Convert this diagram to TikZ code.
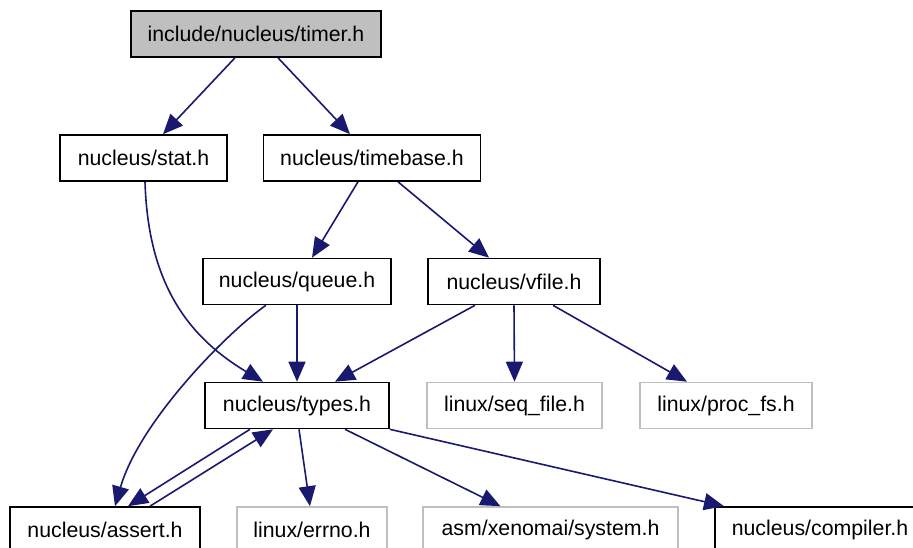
\documentclass[tikz,border=0pt]{standalone}
\usepackage{fontspec}
\setmainfont{Liberation Sans}
\usetikzlibrary{arrows.meta}
\definecolor{edgeblue}{HTML}{191970}
\definecolor{extgray}{HTML}{BFBFBF}
\tikzset{
  box/.style={draw=black, line width=1.6pt, minimum height=46pt, inner sep=0pt, font=\fontsize{21.3}{25}\selectfont},
  extbox/.style={box, draw=extgray},
  edge/.style={draw=edgeblue, line width=1.6pt, -{Triangle[length=20pt,width=17pt]}},
}
\begin{document}
\begin{tikzpicture}[x=1pt,y=-1pt]
\useasboundingbox (0,0) rectangle (913,548);
\node[box, fill=extgray, minimum width=250pt] (timer) at (256,34) {include/nucleus/timer.h};
\node[box, minimum width=167pt] (stat) at (143.5,158) {nucleus/stat.h};
\node[box, minimum width=217pt] (timebase) at (372,158) {nucleus/timebase.h};
\node[box, minimum width=188pt] (queue) at (297,281.5) {nucleus/queue.h};
\node[box, minimum width=172pt] (vfile) at (514,281.5) {nucleus/vfile.h};
\node[box, minimum width=184pt] (types) at (297,405.5) {nucleus/types.h};
\node[extbox, minimum width=175pt] (seqfile) at (514.5,405.5) {linux/seq\_file.h};
\node[extbox, minimum width=172pt] (procfs) at (726,405.5) {linux/proc\_fs.h};
\node[box, minimum width=190pt] (assert) at (105,530) {nucleus/assert.h};
\node[extbox, minimum width=150pt] (errno) at (312,530) {linux/errno.h};
\node[extbox, minimum width=255pt] (system) at (550.5,530) {asm/xenomai/system.h};
\node[box, minimum width=210pt] (compiler) at (820,530) {nucleus/compiler.h};

\draw[edge] ([xshift=-21pt]timer.south) -- ([xshift=19.5pt]stat.north);
\draw[edge] ([xshift=22pt]timer.south) -- ([xshift=-22pt]timebase.north);
\draw[edge] ([xshift=1.5pt]stat.south) .. controls (148,280) and (185,335) .. ([xshift=-34pt]types.north);
\draw[edge] ([xshift=-14pt]timebase.south) -- ([xshift=15pt]queue.north);
\draw[edge] ([xshift=26pt]timebase.south) -- ([xshift=-25pt]vfile.north);
\draw[edge] (queue.south) -- (types.north);
\draw[edge] ([xshift=-31pt]queue.south) .. controls (230,330) and (140,420) .. ([xshift=10pt]assert.north);
\draw[edge] ([xshift=-39pt]vfile.south) -- ([xshift=38pt]types.north);
\draw[edge] (vfile.south) -- (seqfile.north);
\draw[edge] ([xshift=39pt]vfile.south) -- ([xshift=-39pt]procfs.north);
\draw[edge] ([xshift=-47pt]types.south) -- ([xshift=23pt]assert.north);
\draw[edge] ([xshift=45pt]assert.north) -- ([xshift=-24pt]types.south);
\draw[edge] ([xshift=2pt]types.south) -- ([xshift=-2pt]errno.north);
\draw[edge] ([xshift=48pt]types.south) -- ([xshift=-50pt]system.north);
\draw[edge] (types.south east) -- ([xshift=-96pt]compiler.north);
\end{tikzpicture}
\end{document}
